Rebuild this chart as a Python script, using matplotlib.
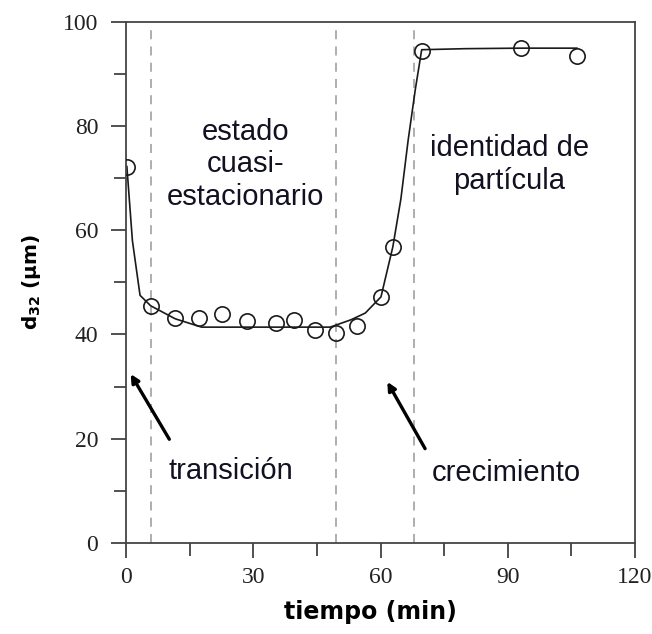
import matplotlib.pyplot as plt
from matplotlib.ticker import MultipleLocator

plt.rcParams['mathtext.default'] = 'regular'

# datos medidos (circulos)
t_exp = [0.2, 5.8, 11.6, 17.1, 22.7, 28.5, 35.3, 39.6, 44.6, 49.5, 54.4, 60.1, 62.9, 69.7, 93.1, 106.3]
d32_exp = [72.2, 45.5, 43.2, 43.1, 43.9, 42.5, 42.1, 42.7, 40.8, 40.2, 41.6, 47.2, 56.8, 94.4, 95.0, 93.3]

# curva de ajuste
t_fit = [0.2, 1.5, 3.3, 5.8, 11.6, 17.8, 30.0, 48.1, 53.0, 56.4, 60.1, 62.9, 64.8, 66.5, 68.2, 69.7, 80.0, 93.1, 106.3]
d32_fit = [72.2, 58.0, 47.5, 45.5, 43.0, 41.4, 41.4, 41.4, 42.8, 44.1, 47.2, 56.8, 66.0, 77.2, 87.0, 94.6, 94.8, 94.9, 94.9]

# limites de etapas
t_etapas = [6.0, 49.5, 67.8]

etiquetas = ['transición', 'estado\ncuasi-\nestacionario', 'identidad de\npartícula', 'crecimiento']
pos_etiquetas = [(24.6, 13.9), (28.2, 72.6), (90.3, 72.6), (89.6, 13.4)]
flechas = [((10.2, 19.9), (1.1, 32.4)), ((70.5, 18.1), (61.6, 30.9))]

fig = plt.figure(figsize=(6.52, 6.34), dpi=100)
ax = fig.add_axes([0.1933, 0.1435, 0.7807, 0.8225])

for t in t_etapas:
    ax.axvline(t, ymax=0.99, color='#a8a8a8', lw=1.3, ls=(0, (5, 4)), zorder=1)

ax.plot(t_fit, d32_fit, color='#1a1a1a', lw=1.2, zorder=2)
ax.plot(t_exp, d32_exp, ls='none', marker='o', ms=11, mfc='none', mec='#1a1a1a',
        mew=1.2, zorder=3)

for (x0, y0), (x1, y1) in flechas:
    ax.annotate('', xy=(x1, y1), xytext=(x0, y0),
                arrowprops=dict(arrowstyle='-|>', color='black', lw=2.4,
                                mutation_scale=12, shrinkA=0, shrinkB=0))

for txt, (x, y) in zip(etiquetas, pos_etiquetas):
    ax.text(x, y, txt, ha='center', va='center', fontsize=21, family='Liberation Sans',
            color='#111122', linespacing=1.2)

ax.set_xlim(0, 120)
ax.set_ylim(0, 100)
ax.xaxis.set_major_locator(MultipleLocator(30))
ax.xaxis.set_minor_locator(MultipleLocator(15))
ax.yaxis.set_major_locator(MultipleLocator(20))
ax.yaxis.set_minor_locator(MultipleLocator(10))
ax.tick_params(which='both', direction='out', top=False, right=False,
               color='#333333', width=1.2, labelsize=17, labelcolor='#222222')
ax.tick_params(axis='x', pad=6)
ax.tick_params(axis='y', pad=9)
ax.tick_params(which='major', length=11)
ax.tick_params(which='minor', length=9)
for lab in ax.get_xticklabels() + ax.get_yticklabels():
    lab.set_family('Liberation Serif')
for s in ax.spines.values():
    s.set_color('#444444')
    s.set_linewidth(1.3)

ax.set_xlabel('tiempo (min)', fontsize=17, fontweight='bold')
ax.xaxis.set_label_coords(0.481, -0.11)
ax.set_ylabel('d$_{32}$ (µm)', fontsize=14.5, fontweight='bold')
ax.yaxis.set_label_coords(-0.163, 0.5)

fig.savefig('out.png', dpi=100)
